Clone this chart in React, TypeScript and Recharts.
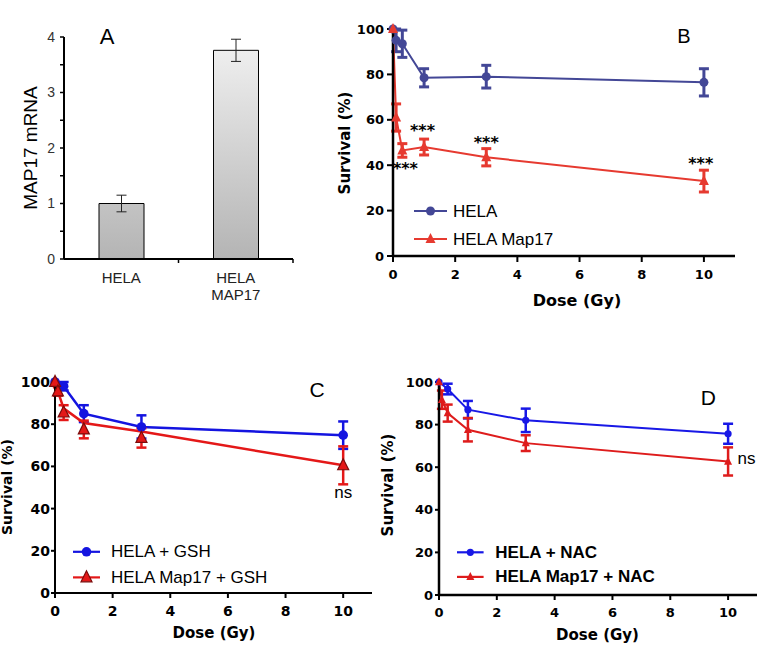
import React from 'react';
import {
  BarChart,
  Bar,
  LineChart,
  Line,
  XAxis,
  YAxis,
  ErrorBar,
  ReferenceDot,
  Legend,
} from 'recharts';

// ---- Panel A: MAP17 mRNA ----
const mrnaCategories = ['HELA', 'HELA\nMAP17'];
const mrnaValues = [1.0, 3.76];
const mrnaErrors = [0.15, 0.2];
const mrnaTicks = [0, 0.5, 1, 1.5, 2, 2.5, 3, 3.5, 4];

// ---- shared survival axes ----
const doseTicks = [0, 2, 4, 6, 8, 10];
const survivalTicks = [0, 20, 40, 60, 80, 100];

// ---- Panel B ----
const bHelaDose = [0, 0.1, 0.3, 1, 3, 10];
const bHelaSurvival = [100, 95, 93.5, 78.5, 79, 76.5];
const bHelaError = [0, 5, 6, 4, 5, 6];
const bMapDose = [0, 0.1, 0.3, 1, 3, 10];
const bMapSurvival = [100, 61, 46.5, 48, 43.5, 33];
const bMapError = [0, 6, 3, 3.5, 3.8, 4.8];
const bStarDose = [0.4, 0.95, 3, 9.9];
const bStarLevel = [38.8, 55.5, 50.2, 41];

// ---- Panel C (GSH) ----
const cHelaDose = [0, 0.3, 1, 3, 10];
const cHelaSurvival = [100, 98, 85, 78.7, 74.8];
const cHelaError = [0, 2, 4, 5.5, 6.5];
const cMapDose = [0, 0.1, 0.3, 1, 3, 10];
const cMapFit = [100, 95.6, 87.5, 80.6, 76.5, 60.5];
const cMapSurvival = [100, 95.5, 85.5, 77.5, 73.5, 60.5];
const cMapError = [0, 2, 3.5, 4.2, 4.6, 9];
const cNsDose = 10;
const cNsLevel = 48.1;

// ---- Panel D (NAC) ----
const dHelaDose = [0, 0.3, 1, 3, 10];
const dHelaSurvival = [100, 96.7, 87, 82, 75.7];
const dHelaError = [0, 2.5, 4.1, 5.5, 4.7];
const dMapDose = [0, 0.1, 0.3, 1, 3, 10];
const dMapSurvival = [100, 91.7, 85.4, 77.6, 71.3, 62.7];
const dMapError = [0, 4.3, 4, 5.5, 3.7, 6.6];
const dNsDose = 10.64;
const dNsLevel = 64.5;

const rows = (dose: number[], surv: number[], err?: number[]) =>
  dose.map((d, i) => ({ dose: d, surv: surv[i], err: err ? err[i] : 0 }));

const ARIAL = '"Liberation Sans", Arial, sans-serif';
const DEJAVU = '"DejaVu Sans", sans-serif';

const COLORS = {
  bHela: '#434796',
  bMap: '#e63a30',
  cHela: '#1414e0',
  cMap: '#e41818',
  cMapEdge: '#7a0c0c',
  dHela: '#1818e6',
  dMap: '#de1c1c',
};

// A: half of one category band, used to put tick marks between bars
const A_PLOT_LEFT = 64;
const A_PLOT_RIGHT = 293;
const A_HALF_BAND = (A_PLOT_RIGHT - A_PLOT_LEFT) / 4;

function trianglePath(cx: number, cy: number, s: number) {
  return `M${cx},${cy - s * 0.6}L${cx - s / 2},${cy + s * 0.4}L${cx + s / 2},${cy + s * 0.4}Z`;
}

function triangleDot(size: number, fill: string, edge?: string) {
  return (props: any) => {
    const { cx, cy, index } = props;
    if (cx == null || cy == null) return <g key={`t-${index}`} />;
    return (
      <path
        key={`t-${index}`}
        d={trianglePath(cx, cy, size)}
        fill={fill}
        stroke={edge ?? fill}
        strokeWidth={edge ? 1.2 : 0}
      />
    );
  };
}

function YTitle(props: any) {
  const { tx, ty, text, size, weight, family } = props;
  return (
    <text
      x={tx}
      y={ty}
      transform={`rotate(-90, ${tx}, ${ty})`}
      textAnchor="middle"
      dominantBaseline="central"
      fontSize={size}
      fontWeight={weight}
      fontFamily={family}
      fill="#000"
    >
      {text}
    </text>
  );
}

function XTitle(props: any) {
  const { tx, ty, text, size, weight, family } = props;
  return (
    <text
      x={tx}
      y={ty}
      textAnchor="middle"
      dominantBaseline="central"
      fontSize={size}
      fontWeight={weight}
      fontFamily={family}
      fill="#000"
    >
      {text}
    </text>
  );
}

function MrnaTick(props: any) {
  const { x, y, payload } = props;
  const lines = String(payload.value).split('\n');
  return (
    <g>
      <line x1={x + A_HALF_BAND} x2={x + A_HALF_BAND} y1={y} y2={y + 4} stroke="#000" strokeWidth={1.5} />
      {lines.map((l, i) => (
        <text
          key={l}
          x={x}
          y={y + 24 + i * 17}
          textAnchor="middle"
          fontSize={15}
          fontFamily={ARIAL}
          fill="#222"
        >
          {l}
        </text>
      ))}
    </g>
  );
}

interface LegendItem {
  label: string;
  color: string;
  marker: 'circle' | 'triangle';
  size: number;
  edge?: string;
}

function LegendBox({
  items,
  gap,
  lineLen,
  textX,
  fontWeight,
}: {
  items: LegendItem[];
  gap: number;
  lineLen: number;
  textX: number;
  fontWeight: string;
}) {
  return (
    <svg width={260} height={gap * items.length} style={{ display: 'block' }}>
      {items.map((it, i) => {
        const cy = gap / 2 + i * gap;
        const cx = lineLen / 2;
        return (
          <g key={it.label}>
            <line x1={0} x2={lineLen} y1={cy} y2={cy} stroke={it.color} strokeWidth={2.2} />
            {it.marker === 'circle' ? (
              <circle cx={cx} cy={cy} r={it.size} fill={it.color} />
            ) : (
              <path
                d={trianglePath(cx, cy, it.size)}
                fill={it.color}
                stroke={it.edge ?? it.color}
                strokeWidth={it.edge ? 1.2 : 0}
              />
            )}
            <text
              x={textX}
              y={cy}
              dominantBaseline="central"
              fontSize={17}
              fontFamily={ARIAL}
              fontWeight={fontWeight}
              fill="#000"
            >
              {it.label}
            </text>
          </g>
        );
      })}
    </svg>
  );
}

function PanelLetter({ x, y, text, size }: { x: number; y: number; text: string; size: number }) {
  return (
    <div
      style={{
        position: 'absolute',
        left: x,
        top: y,
        transform: 'translate(-50%, -50%)',
        fontFamily: ARIAL,
        fontSize: size,
        lineHeight: 1,
        color: '#000',
      }}
    >
      {text}
    </div>
  );
}

function PanelA() {
  const data = mrnaCategories.map((c, i) => ({ name: c, value: mrnaValues[i], err: mrnaErrors[i] }));
  return (
    <BarChart width={300} height={312} data={data} margin={{ top: 37, right: 7, bottom: 0, left: 0 }}>
      <defs>
        <linearGradient id="mrnaGrad" gradientUnits="userSpaceOnUse" x1={0} y1={37} x2={0} y2={259}>
          <stop offset="0%" stopColor="#f2f2f2" />
          <stop offset="100%" stopColor="#b4b4b4" />
        </linearGradient>
      </defs>
      <XAxis
        dataKey="name"
        height={53}
        interval={0}
        tickLine={false}
        tickSize={0}
        tickMargin={0}
        axisLine={{ stroke: '#000', strokeWidth: 2 }}
        tick={<MrnaTick />}
      />
      <YAxis
        width={64}
        type="number"
        domain={[0, 4]}
        ticks={mrnaTicks}
        interval={0}
        tickFormatter={(v: number) => (Number.isInteger(v) ? String(v) : '')}
        tickSize={4}
        tickMargin={5}
        axisLine={{ stroke: '#000', strokeWidth: 2 }}
        tickLine={{ stroke: '#000', strokeWidth: 1.5 }}
        tick={{ fill: '#333', fontSize: 14, fontFamily: ARIAL }}
        label={<YTitle tx={30} ty={148} text="MAP17 mRNA" size={19} weight="normal" family={ARIAL} />}
      />
      <Bar dataKey="value" barSize={45} fill="url(#mrnaGrad)" stroke="#000" strokeWidth={1} isAnimationActive={false}>
        <ErrorBar dataKey="err" width={5} strokeWidth={1} stroke="#222" direction="y" />
      </Bar>
    </BarChart>
  );
}

function PanelB() {
  const hela = rows(bHelaDose, bHelaSurvival, bHelaError);
  const map = rows(bMapDose, bMapSurvival, bMapError);
  return (
    <LineChart width={428} height={310} margin={{ top: 29, right: 23, bottom: 0, left: 0 }}>
      <XAxis
        type="number"
        dataKey="dose"
        domain={[0, 11]}
        ticks={doseTicks}
        height={54}
        tickSize={6}
        tickMargin={8}
        axisLine={{ stroke: '#000', strokeWidth: 2.5 }}
        tickLine={{ stroke: '#000', strokeWidth: 2 }}
        tick={{ fill: '#000', fontSize: 13, fontWeight: 'bold', fontFamily: DEJAVU }}
        label={<XTitle tx={247} ty={300} text="Dose (Gy)" size={16} weight="bold" family={DEJAVU} />}
      />
      <YAxis
        type="number"
        width={63}
        domain={[0, 100]}
        ticks={survivalTicks}
        tickSize={6}
        tickMargin={3}
        axisLine={{ stroke: '#000', strokeWidth: 2.5 }}
        tickLine={{ stroke: '#000', strokeWidth: 2 }}
        tick={{ fill: '#000', fontSize: 13, fontWeight: 'bold', fontFamily: DEJAVU }}
        label={<YTitle tx={15} ty={143} text="Survival (%)" size={15} weight="bold" family={DEJAVU} />}
      />
      <Line
        data={hela}
        dataKey="surv"
        stroke={COLORS.bHela}
        strokeWidth={2}
        dot={{ r: 4.5, fill: COLORS.bHela, stroke: COLORS.bHela, strokeWidth: 0 }}
        isAnimationActive={false}
      >
        <ErrorBar dataKey="err" width={5} strokeWidth={3} stroke={COLORS.bHela} direction="y" />
      </Line>
      <Line
        data={map}
        dataKey="surv"
        stroke={COLORS.bMap}
        strokeWidth={2}
        dot={triangleDot(10, COLORS.bMap)}
        isAnimationActive={false}
      >
        <ErrorBar dataKey="err" width={5} strokeWidth={3} stroke={COLORS.bMap} direction="y" />
      </Line>
      {bStarDose.map((d, i) => (
        <ReferenceDot
          key={`star-${i}`}
          x={d}
          y={bStarLevel[i]}
          r={0}
          fill="none"
          stroke="none"
          label={{ value: '***', position: 'center', fill: '#000', fontSize: 16, fontWeight: 'bold', fontFamily: DEJAVU }}
        />
      ))}
      <Legend
        layout="vertical"
        align="center"
        verticalAlign="middle"
        wrapperStyle={{ left: 84, top: 197, width: 260 }}
        content={() => (
          <LegendBox
            items={[
              { label: 'HELA', color: COLORS.bHela, marker: 'circle', size: 4.5 },
              { label: 'HELA Map17', color: COLORS.bMap, marker: 'triangle', size: 10 },
            ]}
            gap={28}
            lineLen={33}
            textX={39}
            fontWeight="normal"
          />
        )}
      />
    </LineChart>
  );
}

function PanelC() {
  const hela = rows(cHelaDose, cHelaSurvival, cHelaError);
  const mapFit = rows(cMapDose, cMapFit);
  const map = rows(cMapDose, cMapSurvival, cMapError);
  return (
    <LineChart width={380} height={315} margin={{ top: 52, right: 8, bottom: 0, left: 0 }}>
      <XAxis
        type="number"
        dataKey="dose"
        domain={[0, 11]}
        ticks={doseTicks}
        height={52}
        tickSize={5}
        tickMargin={8}
        axisLine={{ stroke: '#000', strokeWidth: 2 }}
        tickLine={{ stroke: '#000', strokeWidth: 2 }}
        tick={{ fill: '#000', fontSize: 14, fontWeight: 'bold', fontFamily: DEJAVU }}
        label={<XTitle tx={214} ty={303} text="Dose (Gy)" size={15} weight="bold" family={DEJAVU} />}
      />
      <YAxis
        type="number"
        width={55}
        domain={[0, 100]}
        ticks={survivalTicks}
        tickSize={4}
        tickMargin={1}
        axisLine={{ stroke: '#000', strokeWidth: 2 }}
        tickLine={{ stroke: '#000', strokeWidth: 2 }}
        tick={{ fill: '#000', fontSize: 14, fontWeight: 'bold', fontFamily: DEJAVU }}
        label={<YTitle tx={7} ty={157} text="Survival (%)" size={14} weight="bold" family={DEJAVU} />}
      />
      <Line
        data={hela}
        dataKey="surv"
        stroke={COLORS.cHela}
        strokeWidth={2.5}
        dot={{ r: 4.8, fill: COLORS.cHela, stroke: COLORS.cHela, strokeWidth: 0 }}
        isAnimationActive={false}
      >
        <ErrorBar dataKey="err" width={5} strokeWidth={2.5} stroke={COLORS.cHela} direction="y" />
      </Line>
      <Line data={mapFit} dataKey="surv" stroke={COLORS.cMap} strokeWidth={2.5} dot={false} isAnimationActive={false} />
      <Line
        data={map}
        dataKey="surv"
        stroke="none"
        dot={triangleDot(11, COLORS.cMap, COLORS.cMapEdge)}
        isAnimationActive={false}
      >
        <ErrorBar dataKey="err" width={5} strokeWidth={2.5} stroke={COLORS.cMap} direction="y" />
      </Line>
      <ReferenceDot
        x={cNsDose}
        y={cNsLevel}
        r={0}
        fill="none"
        stroke="none"
        label={{ value: 'ns', position: 'center', fill: '#000', fontSize: 17, fontFamily: ARIAL }}
      />
      <Legend
        layout="vertical"
        align="center"
        verticalAlign="middle"
        wrapperStyle={{ left: 73, top: 209, width: 260 }}
        content={() => (
          <LegendBox
            items={[
              { label: 'HELA + GSH', color: COLORS.cHela, marker: 'circle', size: 4.8 },
              { label: 'HELA Map17 + GSH', color: COLORS.cMap, marker: 'triangle', size: 11, edge: COLORS.cMapEdge },
            ]}
            gap={25.6}
            lineLen={27}
            textX={38}
            fontWeight="normal"
          />
        )}
      />
    </LineChart>
  );
}

function PanelD() {
  const hela = rows(dHelaDose, dHelaSurvival, dHelaError);
  const map = rows(dMapDose, dMapSurvival, dMapError);
  return (
    <LineChart width={378} height={315} margin={{ top: 52, right: 1, bottom: 0, left: 0 }}>
      <XAxis
        type="number"
        dataKey="dose"
        domain={[0, 11]}
        ticks={doseTicks}
        height={50}
        tickSize={5}
        tickMargin={8}
        axisLine={{ stroke: '#000', strokeWidth: 2.5 }}
        tickLine={{ stroke: '#000', strokeWidth: 2 }}
        tick={{ fill: '#000', fontSize: 13, fontWeight: 'bold', fontFamily: DEJAVU }}
        label={<XTitle tx={217.5} ty={305} text="Dose (Gy)" size={15} weight="bold" family={DEJAVU} />}
      />
      <YAxis
        type="number"
        width={59}
        domain={[0, 100]}
        ticks={survivalTicks}
        tickSize={4}
        tickMargin={2}
        axisLine={{ stroke: '#000', strokeWidth: 2.5 }}
        tickLine={{ stroke: '#000', strokeWidth: 2 }}
        tick={{ fill: '#000', fontSize: 13, fontWeight: 'bold', fontFamily: DEJAVU }}
        label={<YTitle tx={8} ty={155} text="Survival (%)" size={15} weight="bold" family={DEJAVU} />}
      />
      <Line
        data={hela}
        dataKey="surv"
        stroke={COLORS.dHela}
        strokeWidth={2}
        dot={{ r: 3.6, fill: COLORS.dHela, stroke: COLORS.dHela, strokeWidth: 0 }}
        isAnimationActive={false}
      >
        <ErrorBar dataKey="err" width={5} strokeWidth={2.5} stroke={COLORS.dHela} direction="y" />
      </Line>
      <Line
        data={map}
        dataKey="surv"
        stroke={COLORS.dMap}
        strokeWidth={2}
        dot={triangleDot(8, COLORS.dMap)}
        isAnimationActive={false}
      >
        <ErrorBar dataKey="err" width={5} strokeWidth={2.5} stroke={COLORS.dMap} direction="y" />
      </Line>
      <ReferenceDot
        x={dNsDose}
        y={dNsLevel}
        r={0}
        fill="none"
        stroke="none"
        label={{ value: 'ns', position: 'center', fill: '#000', fontSize: 17, fontFamily: ARIAL }}
      />
      <Legend
        layout="vertical"
        align="center"
        verticalAlign="middle"
        wrapperStyle={{ left: 76.7, top: 210.4, width: 260 }}
        content={() => (
          <LegendBox
            items={[
              { label: 'HELA + NAC', color: COLORS.dHela, marker: 'circle', size: 3.6 },
              { label: 'HELA Map17 + NAC', color: COLORS.dMap, marker: 'triangle', size: 8 },
            ]}
            gap={24.6}
            lineLen={26.6}
            textX={38.3}
            fontWeight="bold"
          />
        )}
      />
    </LineChart>
  );
}

export default function App() {
  return (
    <div
      style={{
        position: 'absolute',
        left: 0,
        top: 0,
        width: 758,
        height: 645,
        background: '#fff',
        overflow: 'hidden',
        fontFamily: ARIAL,
      }}
    >
      <div style={{ position: 'absolute', left: 0, top: 0 }}>
        <PanelA />
      </div>
      <div style={{ position: 'absolute', left: 330, top: 0 }}>
        <PanelB />
      </div>
      <div style={{ position: 'absolute', left: 0, top: 330 }}>
        <PanelC />
      </div>
      <div style={{ position: 'absolute', left: 380, top: 330 }}>
        <PanelD />
      </div>
      <PanelLetter x={107} y={37} text="A" size={22} />
      <PanelLetter x={684} y={35.5} text="B" size={20} />
      <PanelLetter x={317} y={389} text="C" size={21} />
      <PanelLetter x={708.3} y={396.7} text="D" size={21} />
    </div>
  );
}
